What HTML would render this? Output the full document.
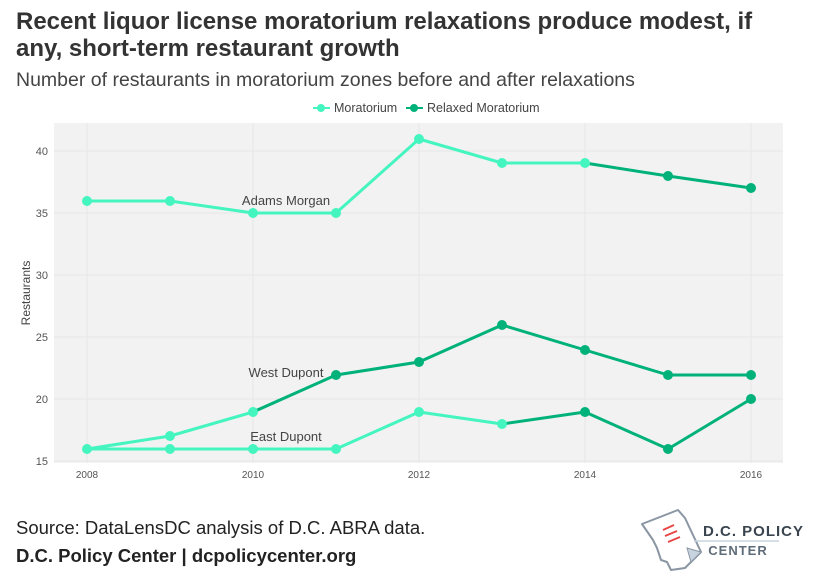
<!DOCTYPE html>
<html><head><style>
body{margin:0;width:814px;height:586px;background:#fff;font-family:"Liberation Sans",sans-serif;overflow:hidden;position:relative}
.t{position:absolute;left:16px;color:#333;white-space:nowrap}
</style></head><body>
<div class="t" style="top:8px;font-size:24px;font-weight:bold;line-height:27px">Recent liquor license moratorium relaxations produce modest, if<br>any, short-term restaurant growth</div>
<div class="t" style="top:69px;font-size:19.5px;color:#444">Number of restaurants in moratorium zones before and after relaxations</div>
<div class="t" style="top:517px;font-size:18.5px;color:#222">Source: DataLensDC analysis of D.C. ABRA data.</div>
<div class="t" style="top:545px;font-size:18.5px;font-weight:bold;color:#222">D.C. Policy Center | dcpolicycenter.org</div>
<svg width="814" height="586" style="position:absolute;left:0;top:0" font-family="Liberation Sans, sans-serif">
<g font-size="12.5" fill="#444">
<line x1="313" y1="108" x2="330" y2="108" stroke="#45f5c0" stroke-width="2"/><circle cx="321" cy="108" r="4" fill="#45f5c0"/>
<text x="334" y="112">Moratorium</text>
<line x1="406" y1="108" x2="423" y2="108" stroke="#00b27a" stroke-width="2"/><circle cx="414" cy="108" r="4" fill="#00b27a"/>
<text x="427" y="112">Relaxed Moratorium</text>
</g>
<rect x="54" y="123" width="729" height="340" fill="#f2f2f2"/>
<g stroke="#e6e6e6" stroke-width="1">
<line x1="54" x2="783" y1="151" y2="151"/><line x1="54" x2="783" y1="213" y2="213"/><line x1="54" x2="783" y1="275" y2="275"/><line x1="54" x2="783" y1="337" y2="337"/><line x1="54" x2="783" y1="399" y2="399"/><line x1="54" x2="783" y1="461" y2="461"/>
<line y1="123" y2="463" x1="87" x2="87"/><line y1="123" y2="463" x1="253" x2="253"/><line y1="123" y2="463" x1="419" x2="419"/><line y1="123" y2="463" x1="585" x2="585"/><line y1="123" y2="463" x1="751" x2="751"/>
</g>
<g font-size="11" fill="#555" text-anchor="end">
<text x="48" y="155">40</text><text x="48" y="217">35</text><text x="48" y="279">30</text><text x="48" y="341">25</text><text x="48" y="403">20</text><text x="48" y="465">15</text>
</g>
<g font-size="10" fill="#555" text-anchor="middle">
<text x="87" y="478">2008</text><text x="253" y="478">2010</text><text x="419" y="478">2012</text><text x="585" y="478">2014</text><text x="751" y="478">2016</text>
</g>
<text transform="translate(30,293) rotate(-90)" font-size="12" fill="#444" text-anchor="middle">Restaurants</text>
<g fill="none" stroke-width="3" stroke-linejoin="round">
<polyline stroke="#45f5c0" points="87,201 170,201 253,213 336,213 419,139 502,163 585,163"/>
<polyline stroke="#00b27a" points="585,163 668,176 751,188"/>
<polyline stroke="#45f5c0" points="87,449 170,436 253,412"/>
<polyline stroke="#00b27a" points="253,412 336,375 419,362 502,325 585,350 668,375 751,375"/>
<polyline stroke="#45f5c0" points="87,449 170,449 253,449 336,449 419,412 502,424"/>
<polyline stroke="#00b27a" points="502,424 585,412 668,449 751,399"/>
</g>
<g fill="#45f5c0">
<circle cx="87" cy="201" r="5"/><circle cx="170" cy="201" r="5"/><circle cx="253" cy="213" r="5"/><circle cx="336" cy="213" r="5"/><circle cx="419" cy="139" r="5"/><circle cx="502" cy="163" r="5"/><circle cx="585" cy="163" r="5"/>
<circle cx="87" cy="449" r="5"/><circle cx="170" cy="436" r="5"/><circle cx="253" cy="412" r="5"/>
<circle cx="170" cy="449" r="5"/><circle cx="253" cy="449" r="5"/><circle cx="336" cy="449" r="5"/><circle cx="419" cy="412" r="5"/><circle cx="502" cy="424" r="5"/>
</g>
<g fill="#00b27a">
<circle cx="668" cy="176" r="5"/><circle cx="751" cy="188" r="5"/>
<circle cx="336" cy="375" r="5"/><circle cx="419" cy="362" r="5"/><circle cx="502" cy="325" r="5"/><circle cx="585" cy="350" r="5"/><circle cx="668" cy="375" r="5"/><circle cx="751" cy="375" r="5"/>
<circle cx="585" cy="412" r="5"/><circle cx="668" cy="449" r="5"/><circle cx="751" cy="399" r="5"/>
</g>
<g font-size="13" fill="#444" text-anchor="middle">
<text x="286" y="205">Adams Morgan</text>
<text x="286" y="377">West Dupont</text>
<text x="286" y="441">East Dupont</text>
</g>
<g transform="translate(641,510)">
<path d="M1,14 L37,0 L44,8 L60,42 L44,58 L30,60 L26,52 L20,50 L16,38 L12,30 Z" fill="#fff" stroke="#8a96a3" stroke-width="2" stroke-linejoin="round"/>
<path d="M46,38 L60,42 L50,52 Z" fill="#c8d3e0" stroke="#8a96a3" stroke-width="1"/>
<line x1="22" y1="20" x2="33" y2="15" stroke="#e84545" stroke-width="1.8"/>
<line x1="24" y1="26" x2="36" y2="21" stroke="#e84545" stroke-width="1.8"/>
<line x1="27" y1="32" x2="39" y2="27" stroke="#e84545" stroke-width="1.8"/>
</g>
<text x="703" y="536" font-size="15" font-weight="bold" fill="#3a4550" letter-spacing="1">D.C. POLICY</text>
<line x1="694" y1="541" x2="779" y2="541" stroke="#c8d3e0" stroke-width="1.5"/>
<text x="738" y="555" font-size="13" font-weight="bold" fill="#5e6b78" text-anchor="middle" letter-spacing="1">CENTER</text>
</svg>
</body></html>
